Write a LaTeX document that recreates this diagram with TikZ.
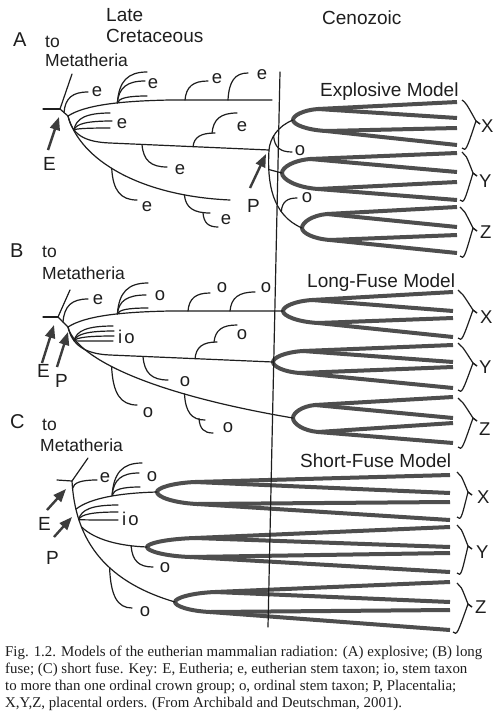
\documentclass[tikz,border=0pt]{standalone}
\usepackage{fontspec}
\setmainfont{Liberation Serif}
\newfontfamily\labfont{Liberation Sans}
\usetikzlibrary{arrows.meta}
\definecolor{ink}{RGB}{30,30,30}
\definecolor{crowncol}{RGB}{78,78,78}
\definecolor{arrcol}{RGB}{60,60,60}
\tikzset{
  thinl/.style={line width=1.2pt, draw=ink, line cap=round},
  crown/.style={line width=4pt, draw=crowncol, line cap=butt, line join=round},
  lab/.style={font=\labfont\fontsize{19}{19}\selectfont, text=ink, inner sep=0pt},
  mlab/.style={font=\labfont\fontsize{17.5}{17.5}\selectfont, text=ink, inner sep=0pt},
  tlab/.style={font=\labfont\fontsize{18.5}{18.5}\selectfont, text=ink, inner sep=0pt},
  arr/.style={draw=arrcol, line width=2.4pt, -{Triangle[length=13pt,width=10pt]}},
  brk/.style={line width=1.2pt, draw=ink, line join=miter}
}
\newcommand\twig[4]{\draw[thinl] (#1,#2) .. controls ({#1+0.05*(#3-#1)},{#2+0.7*(#4-#2)}) and ({#1+0.35*(#3-#1)},{#4}) .. (#3,#4);}
\newcommand\ordbrace[4]{\draw[brk] (#1,#2) .. controls ({#1+4},{#2+3}) .. ({#3-4},{#4-3}) -- (#3,#4);}
\begin{document}
\begin{tikzpicture}[x=1pt,y=-1pt]
\useasboundingbox (0,0) rectangle (500,726);
\fill[white] (0,0) rectangle (500,726);

% ---------- headings ----------
\node[lab,anchor=base west] (late) at (106,21) {Late};
\node[lab,anchor=base west] (cret) at (106,42.5) {Cretaceous};
\node[lab,anchor=base west] (ceno) at (322,24) {Cenozoic};

% ---------- crown groups ----------
\foreach \tx/\ax/\ay/\sa/\ya/\sb/\yb/\ta/\tb/\tc/\td in {
  457/293/120/318/109/326/131/102/118/128/145,
  457/282/173/310/159/318/189/153/172/182/200,
  457/302/228/327/214/330/240/207/227/235/253,
  453/283/311/312/300/318/323/292/311/318/337,
  453/273/362/303/351/300/373/345/362/367/388,
  453/293/418/315/405/318/432/397/418/423/443,
  450/157/492/195/482/197/504/475/493/502/520,
  450/147/547/195/538/190/557/527/547/553/572,
  450/175/602/215/592/210/612/582/602/610/630}{
  \draw[crown] (\tx,\ta) -- (\sa,\ya)
     .. controls ({\ax+0.4*(\sa-\ax)},{\ya+0.1*(\ay-\ya)}) and (\ax,{\ay-0.4*(\ay-\ya)}) .. (\ax,\ay)
     .. controls (\ax,{\ay+0.4*(\yb-\ay)}) and ({\ax+0.4*(\sb-\ax)},{\yb-0.1*(\yb-\ay)}) .. (\sb,\yb)
     -- (\tx,\td);
  \draw[crown] (\sa,\ya) -- (\tx,\tb);
  \draw[crown] (\sb,\yb) -- (\tx,\tc);
}

% ---------- brackets and order labels ----------
\ordbrace{462}{100}{480}{124}\ordbrace{462}{148}{480}{124}
\ordbrace{462}{152}{477}{176}\ordbrace{460}{200}{477}{176}
\ordbrace{460}{207}{477}{231}\ordbrace{460}{256}{477}{231}
\node[tlab,anchor=base west] (xa) at (481,132) {X};
\node[tlab,anchor=base west] (ya) at (479,187) {Y};
\node[tlab,anchor=base west] (za) at (480,238) {Z};
\ordbrace{458}{290}{477}{313}\ordbrace{458}{338}{477}{313}
\ordbrace{458}{343}{477}{366}\ordbrace{458}{390}{477}{366}
\ordbrace{458}{398}{477}{421}\ordbrace{458}{447}{477}{421}
\node[tlab,anchor=base west] (xb) at (480,323) {X};
\node[tlab,anchor=base west] (yb) at (479,373) {Y};
\node[tlab,anchor=base west] (zb) at (479,435) {Z};
\ordbrace{457}{472}{472}{495}\ordbrace{457}{517}{472}{495}
\ordbrace{457}{525}{472}{549}\ordbrace{457}{573}{472}{549}
\ordbrace{457}{583}{472}{607}\ordbrace{453}{632}{472}{607}
\node[tlab,anchor=base west] (xc) at (477,503) {X};
\node[tlab,anchor=base west] (yc) at (476,558) {Y};
\node[tlab,anchor=base west] (zc) at (475,613) {Z};

% ================= Panel A =================
\node[lab,font=\labfont\fontsize{20}{20}\selectfont,anchor=base west] (pa) at (13,46) {A};
\node[mlab,anchor=base west] (toa) at (45,47) {to};
\node[mlab,anchor=base west] (meta) at (45,66) {Metatheria};
\node[lab,anchor=base west] (expl) at (320,96.5) {Explosive Model};
\coordinate (EA) at (60,109);
\coordinate (JA) at (68,116);
\coordinate (PA) at (269,150);
\draw[thinl] (43,109) -- (EA);
\draw[thinl] (72,74) -- (EA) -- (JA);
\draw[thinl] (JA) .. controls (85,105) and (120,101) .. (170,100) -- (272,100);
\draw[thinl] (JA) .. controls (72,135) and (85,142) .. (110,143) -- (PA);
\draw[thinl] (JA) .. controls (80,160) and (140,196) .. (230,200);
\draw[thinl] (293,120) .. controls (278,126) and (270,138) .. (PA)
   .. controls (267,183) and (272,215) .. (302,228);
\draw[thinl] (268.7,169.5) -- (282,173);
\twig{64}{112.5}{88}{92}
\twig{117.4}{102.9}{147}{72}\twig{117.4}{102.9}{145}{81}\twig{117.4}{102.9}{147}{96}
\twig{185}{100}{208}{81}
\twig{228}{100}{248}{73}
\twig{74}{130}{110}{113}\twig{74}{130}{112}{121}\twig{74}{130}{110}{128}
\twig{193}{146.7}{215}{133}\twig{212}{133.3}{237}{113}
\twig{142}{144.4}{167}{167}
\twig{111.7}{168.3}{137}{200}
\twig{184.4}{195}{210}{213}\twig{203}{212.7}{218}{227}
\twig{273.6}{136}{292}{152}
\twig{281.3}{211.6}{297}{198}
\node[tlab] (ea1) at (97,92) {e};
\node[tlab] (ea2) at (153,84) {e};
\node[tlab] (ea3) at (217,79) {e};
\node[tlab] (ea4) at (262,75) {e};
\node[tlab] (ea5) at (122,124) {e};
\node[tlab] (ea6) at (242,127) {e};
\node[tlab] (ea7) at (180,170) {e};
\node[tlab] (ea8) at (147,207) {e};
\node[tlab] (ea9) at (226,220) {e};
\node[tlab] (oa1) at (300,151) {o};
\node[tlab] (oa2) at (307,198) {o};
\coordinate (Eat) at (48,150);
\coordinate (Eah) at (59,117);
\draw[arr] (Eat) -- (Eah);
\node[lab,anchor=base west] (Ela) at (43,170) {E};
\coordinate (Pat) at (250,188);
\coordinate (Pah) at (266,154);
\draw[arr] (Pat) -- (Pah);
\node[lab,anchor=base west] (Pla) at (247,212) {P};

% ================= Panel B =================
\node[lab,font=\labfont\fontsize{20}{20}\selectfont,anchor=base west] (pb) at (10,257) {B};
\node[mlab,anchor=base west] (tob) at (42,257) {to};
\node[mlab,anchor=base west] (metb) at (42,279) {Metatheria};
\node[lab,anchor=base west] (longf) at (307,287) {Long-Fuse Model};
\coordinate (EB) at (58,317);
\coordinate (JB) at (68,327);
\draw[thinl] (43,317) -- (EB);
\draw[thinl] (70,290) -- (EB) -- (JB);
\draw[thinl] (JB) .. controls (85,316) and (120,312) .. (170,311) -- (283,311);
\draw[thinl] (JB) .. controls (72,345) and (85,354) .. (110,355) -- (273,362);
\draw[thinl] (JB) .. controls (75,355) and (140,392) .. (293,418);
\twig{63}{322}{88}{299}
\twig{117.4}{313.9}{148}{283}\twig{117.4}{313.9}{146}{295}\twig{117.4}{313.9}{148}{308}
\twig{188}{311}{210}{293}
\twig{230}{311}{255}{292}
\twig{74.2}{340.8}{113}{326}\twig{74.2}{340.8}{114}{331}\twig{74.2}{340.8}{114}{336}\twig{74.2}{340.8}{113}{341}
\twig{195}{358.7}{217}{342}\twig{214}{342.3}{237}{325}
\twig{143}{356.4}{168}{380}
\twig{111.6}{366.5}{137}{405}
\twig{184.5}{394}{205}{420}\twig{199}{418.5}{213}{433}
\node[tlab] (eb1) at (98,300) {e};
\node[tlab] (ob1) at (160,296) {o};
\node[tlab] (ob2) at (222,288) {o};
\node[tlab] (ob3) at (266,288) {o};
\node[tlab,anchor=base west] (iob) at (118,343) {i\kern2pt o};
\node[tlab] (ob4) at (242,335) {o};
\node[tlab] (ob5) at (185,382) {o};
\node[tlab] (ob6) at (148,413) {o};
\node[tlab] (ob7) at (228,428) {o};
\coordinate (Ebt) at (42,363);
\coordinate (Ebh) at (54,325);
\draw[arr] (Ebt) -- (Ebh);
\node[lab,anchor=base west] (Elb) at (37,377) {E};
\coordinate (Pbt) at (57,367);
\coordinate (Pbh) at (68,332);
\draw[arr] (Pbt) -- (Pbh);
\node[lab,anchor=base west] (Plb) at (55,387) {P};

% ================= Panel C =================
\node[lab,font=\labfont\fontsize{20}{20}\selectfont,anchor=base west] (pc) at (10,428) {C};
\node[mlab,anchor=base west] (toc) at (42,430) {to};
\node[mlab,anchor=base west] (metc) at (40,451) {Metatheria};
\node[lab,anchor=base west] (shortf) at (300,467) {Short-Fuse Model};
\coordinate (EC) at (72,481);
\draw[thinl] (57,480) -- (EC);
\draw[thinl] (88,458) -- (EC);
\draw[thinl] (EC) .. controls (75,535) and (100,580) .. (175,602);
\draw[thinl] (75.9,509.2) .. controls (90,498) and (120,493) .. (157,492);
\draw[thinl] (81.4,526.8) .. controls (95,540) and (120,546) .. (147,547);
\twig{72.5}{488.5}{97}{480}
\twig{112.1}{495.5}{142}{463}\twig{112.1}{495.5}{139}{473}\twig{112.1}{495.5}{140}{487}
\twig{78.8}{519.6}{118}{505}\twig{78.8}{519.6}{118}{512}\twig{78.8}{519.6}{118}{520}
\twig{131.1}{545.8}{153}{567}
\twig{109.6}{567.8}{132}{608}
\node[tlab] (ec1) at (105,478) {e};
\node[tlab] (oc1) at (152,477) {o};
\node[tlab,anchor=base west] (ioc) at (122,525) {i\kern2pt o};
\node[tlab] (oc2) at (165,568) {o};
\node[tlab] (oc3) at (145,612) {o};
\coordinate (Ect) at (47,510);
\coordinate (Ech) at (66,489);
\draw[arr] (Ect) -- (Ech);
\node[lab,anchor=base west] (Elc) at (38,530) {E};
\coordinate (Pct) at (54,537);
\coordinate (Pch) at (72,517);
\draw[arr] (Pct) -- (Pch);
\node[lab,anchor=base west] (Plc) at (46,564) {P};

% ---------- K/T boundary ----------
\coordinate (kt1) at (280,72);
\coordinate (kt2) at (268,627);
\draw[thinl] (kt1) -- (kt2);

% ---------- caption ----------
\node[anchor=base west, align=left, inner sep=0pt, text=ink,
      font=\fontsize{14.9}{16.7}\selectfont] (cap) at (5,707)
 {Fig. 1.2. Models of the eutherian mammalian radiation: (A) explosive; (B) long\\
  fuse; (C) short fuse. Key: E, Eutheria; e, eutherian stem taxon; io, stem taxon\\
  to more than one ordinal crown group; o, ordinal stem taxon; P, Placentalia;\\
  X,Y,Z, placental orders. (From Archibald and Deutschman, 2001).};
\end{tikzpicture}
\end{document}
